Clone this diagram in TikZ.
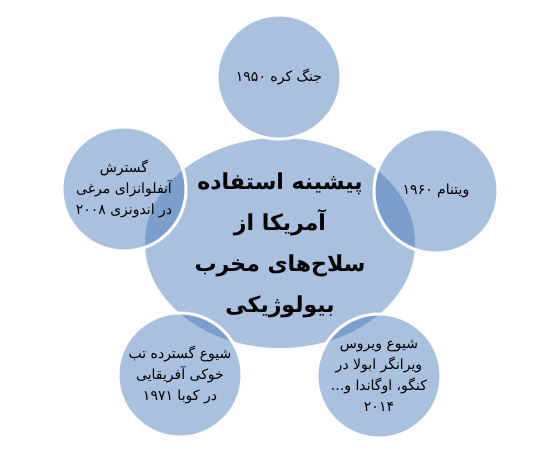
\documentclass[tikz,border=0pt]{standalone}
\usepackage{fontspec}
\usetikzlibrary{shapes.geometric}
\TeXXeTstate=1
\newfontfamily\arabicfont[Script=Arabic]{DejaVu Sans}
\newcommand{\fatext}[1]{\beginR #1\endR}
\definecolor{ringblue}{RGB}{72,121,185}

\begin{document}
\begin{tikzpicture}[x=0.5pt,y=-0.5pt,
  bubble/.style={fill=ringblue, fill opacity=0.47, text opacity=1},
  hub/.style={bubble, ellipse, draw=none, minimum width=135pt, minimum height=105pt, inner sep=0pt},
  hubtext/.style={align=center, inner sep=0pt, font=\arabicfont\bfseries\fontsize{11}{20.5}\selectfont},
  spoke/.style={bubble, circle, draw=white, draw opacity=1, line width=1.5pt, minimum size=62pt, inner sep=0pt,
    align=center, font=\arabicfont\fontsize{7}{10.5}\selectfont}]
\useasboundingbox (0,0) rectangle (541,461);

% central shape
\node[hub] (hub) at (280,243) {};
\node[hubtext] (hubtext) at (280,245) {\fatext{پیشینه استفاده}\\ \fatext{آمریکا از}\\ \fatext{سلاح‌های مخرب}\\ \fatext{بیولوژیکی}};

% satellites
\node[spoke] (korea) at (279,77) {\fatext{جنگ کره ۱۹۵۰}};
\node[spoke] (vietnam) at (436,191) {\fatext{ویتنام ۱۹۶۰}};
\node[spoke] (ebola) at (379,376) {\fatext{شیوع ویروس}\\ \fatext{ویرانگر ابولا در}\\ \fatext{کنگو، اوگاندا و...}\\ \fatext{۲۰۱۴}};
\node[spoke] (cuba) at (180,375) {\fatext{شیوع گسترده تب}\\ \fatext{خوکی آفریقایی}\\ \fatext{در کوبا ۱۹۷۱}};
\node[spoke] (indonesia) at (124,189) {\fatext{گسترش}\\ \fatext{آنفلوانزای مرغی}\\ \fatext{در اندونزی ۲۰۰۸}};
\end{tikzpicture}
\end{document}
